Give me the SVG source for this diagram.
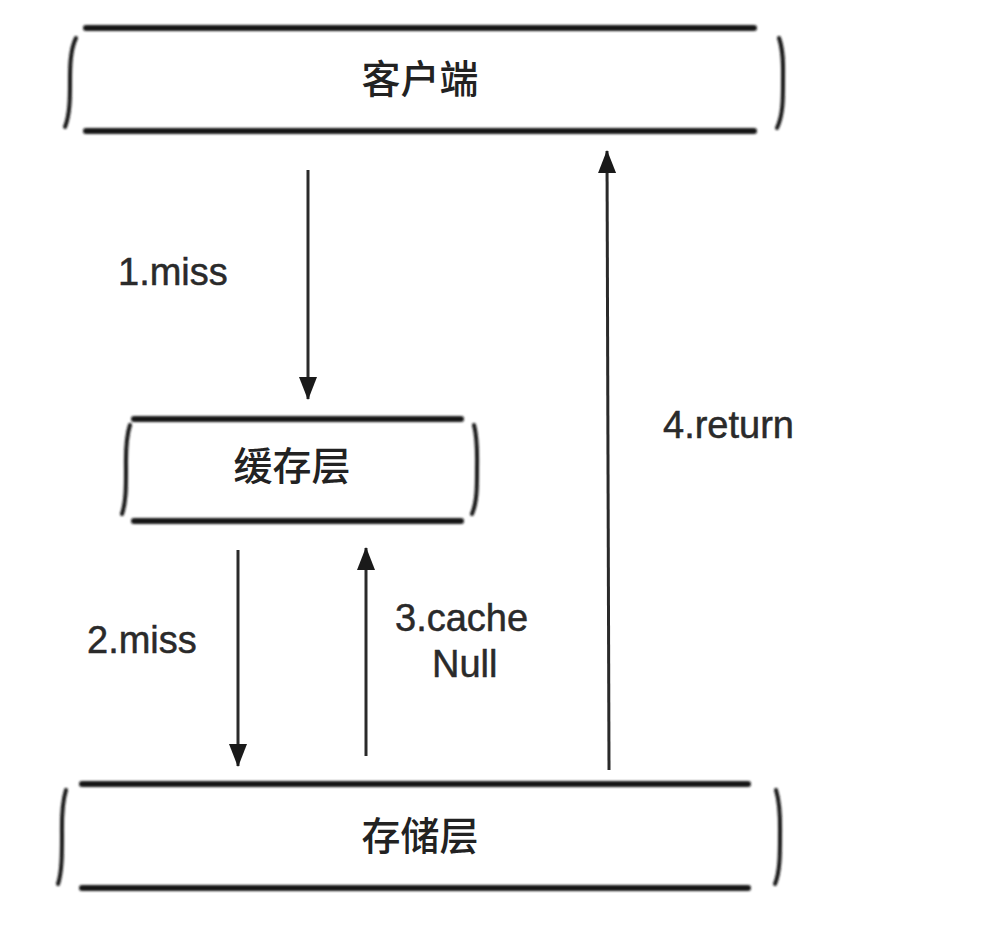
<svg xmlns="http://www.w3.org/2000/svg" width="1005" height="941" viewBox="0 0 1005 941">
<defs>
<filter id="soft" x="-5%" y="-50%" width="110%" height="200%"><feGaussianBlur stdDeviation="0.9"/></filter>
<marker id="ahd" markerUnits="userSpaceOnUse" markerWidth="24" markerHeight="20" refX="22" refY="10" orient="auto" viewBox="0 0 24 20">
<path d="M0 1 L23 10 L0 19 Z" fill="#1a1a1a"/>
</marker>
</defs>
<style>
.bar{stroke:#151515;stroke-width:6;stroke-linecap:round;fill:none}
.brace{stroke:#151515;stroke-width:4;stroke-linecap:round;fill:none}
.conn{stroke:#2a2a2a;stroke-width:3;fill:none}
.cjk{font-family:"Noto Sans CJK SC","Noto Sans CJK JP",sans-serif;font-size:39px;font-weight:500;fill:#222;text-anchor:middle}
.lbl{font-family:"Liberation Sans",Arial,sans-serif;font-size:38px;fill:#2a2a2a;stroke:#2a2a2a;stroke-width:0.5}
</style>
<rect width="1005" height="941" fill="#ffffff"/>

<g id="client" filter="url(#soft)">
<line class="bar" x1="86" y1="28" x2="754" y2="28"/>
<line class="bar" x1="86" y1="131" x2="754" y2="131"/>
<path class="brace" d="M76 38 C70 50 70 68 70 82 C70 98 70 114 65 127"/>
<path class="brace" d="M779 38 C784 52 783 68 783 82 C783 100 783 115 777 128"/>
</g>
<text class="cjk" x="420" y="93">客户端</text>

<g id="cache" filter="url(#soft)">
<line class="bar" x1="134" y1="419" x2="461" y2="419"/>
<line class="bar" x1="134" y1="521" x2="461" y2="521"/>
<path class="brace" d="M130 425 C125 440 126 458 126 470 C126 488 126 502 122 514"/>
<path class="brace" d="M474 425 C478 440 477 458 477 470 C477 488 477 502 472 514"/>
</g>
<text class="cjk" x="292" y="480">缓存层</text>

<g id="storage" filter="url(#soft)">
<line class="bar" x1="82" y1="784" x2="748" y2="784"/>
<line class="bar" x1="82" y1="888" x2="748" y2="888"/>
<path class="brace" d="M66 790 C61 806 62 822 62 836 C62 854 62 872 58 884"/>
<path class="brace" d="M776 790 C781 806 780 822 780 836 C780 854 780 872 775 884"/>
</g>
<text class="cjk" x="420" y="850">存储层</text>

<g id="connectors">
<line class="conn" x1="308" y1="170" x2="308" y2="399" marker-end="url(#ahd)"/>
<line class="conn" x1="238" y1="550" x2="238" y2="766" marker-end="url(#ahd)"/>
<line class="conn" x1="366" y1="756" x2="366" y2="548" marker-end="url(#ahd)"/>
<line class="conn" x1="609" y1="770" x2="607" y2="151" marker-end="url(#ahd)"/>
</g>

<g id="labels">
<text class="lbl" x="118" y="285">1.miss</text>
<text class="lbl" x="87" y="653">2.miss</text>
<text class="lbl" x="395" y="631">3.cache</text>
<text class="lbl" x="432" y="677">Null</text>
<text class="lbl" x="663" y="438">4.return</text>
</g>
</svg>
